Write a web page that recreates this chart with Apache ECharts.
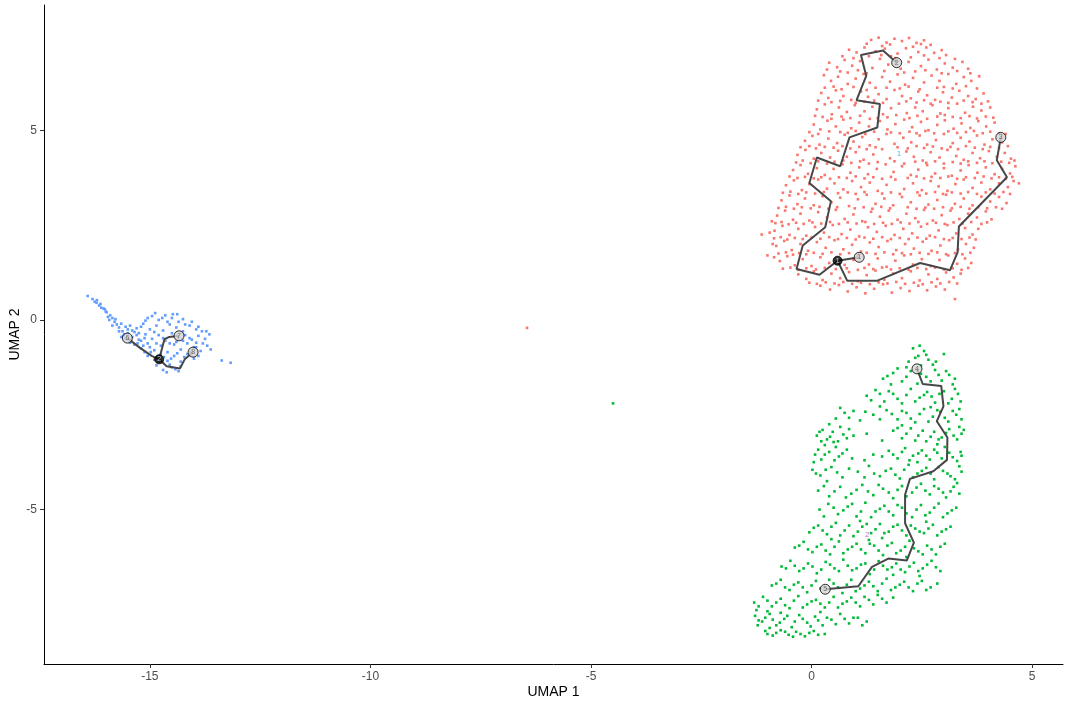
<!DOCTYPE html>
<html>
<head>
<meta charset="utf-8">
<script src="https://cdn.jsdelivr.net/npm/echarts/dist/echarts.min.js"></script>
<style>
  html, body { margin: 0; padding: 0; background: #fff; }
  #chart { width: 1073px; height: 709px; }
</style>
</head>
<body>
<div id="chart"></div>
<script>
// axis ticks
const xTicks = [-15, -10, -5, 0, 5];
const yTicks = [-5, 0, 5];

// cluster 1 (red) cells
const redPts = [
  [1.35,7.38],[1.52,7.44],[1.7,7.31],[1.88,7.41],[2.05,7.35],[2.21,7.43],[2.38,7.3],[2.55,7.37],[1.6,7.22],[2.3,7.2],
  [0.85,7.12],[1.02,7.05],[1.2,7.18],[1.45,7.08],[1.66,7.15],[1.95,7.02],[2.14,7.16],[2.42,7.06],[2.6,7.18],[2.78,7.04],[2.95,7.11],[3.05,6.98],[1.3,6.95],[2.25,6.92],
  [0.4,6.78],[0.58,6.66],[0.75,6.85],[0.92,6.7],[1.1,6.82],[1.38,6.64],[1.55,6.88],[1.74,6.73],[2.02,6.62],[2.2,6.8],[2.48,6.69],[2.65,6.86],[2.84,6.6],[3.02,6.76],[3.2,6.65],[3.42,6.8],[3.55,6.62],[0.65,6.55],[1.9,6.9],[2.35,6.55],
  [0.28,6.45],[0.44,6.3],[0.6,6.41],[0.82,6.22],[1.0,6.36],[1.18,6.48],[1.32,6.25],[1.6,6.4],[1.78,6.28],[1.95,6.47],[2.12,6.2],[2.3,6.38],[2.55,6.26],[2.72,6.44],[2.9,6.3],[3.1,6.48],[3.28,6.22],[3.45,6.4],[3.62,6.3],[3.8,6.42],[0.5,6.15],[1.45,6.12],[2.85,6.12],
  [0.22,5.98],[0.38,5.85],[0.55,6.05],[0.72,5.9],[0.9,5.8],[1.12,6.02],[1.28,5.88],[1.52,5.95],[1.7,5.82],[1.88,6.06],[2.05,5.9],[2.25,5.84],[2.42,6.02],[2.62,5.92],[2.8,5.8],[2.98,6.0],[3.18,5.86],[3.35,6.04],[3.55,5.9],[3.72,5.82],[3.9,5.97],[1.0,5.72],[2.7,5.7],
  [0.12,5.55],[0.3,5.68],[0.46,5.42],[0.62,5.6],[0.8,5.48],[0.98,5.66],[1.2,5.5],[1.38,5.62],[1.62,5.42],[1.8,5.58],[1.98,5.7],[2.16,5.45],[2.35,5.6],[2.52,5.5],[2.74,5.66],[2.92,5.44],[3.1,5.58],[3.3,5.7],[3.48,5.46],[3.66,5.62],[3.85,5.52],[4.05,5.6],[0.25,5.35],[1.5,5.32],[3.2,5.35],
  [0.05,5.15],[0.2,5.02],[0.36,5.25],[0.55,5.1],[0.72,5.28],[0.9,5.05],[1.08,5.2],[1.3,5.1],[1.55,5.24],[1.72,5.02],[1.9,5.16],[2.1,5.28],[2.28,5.08],[2.48,5.22],[2.65,5.0],[2.85,5.14],[3.02,5.26],[3.22,5.04],[3.4,5.18],[3.6,5.06],[3.78,5.24],[3.96,5.1],[4.15,5.2],[0.65,4.95],[2.0,4.92],[3.5,4.95],
  [-0.15,4.72],[0.02,4.85],[0.18,4.62],[0.38,4.78],[0.58,4.66],[0.75,4.88],[0.95,4.7],[1.15,4.82],[1.32,4.6],[1.52,4.76],[1.7,4.9],[1.88,4.64],[2.08,4.8],[2.26,4.68],[2.45,4.86],[2.62,4.62],[2.82,4.74],[3.0,4.9],[3.2,4.66],[3.38,4.8],[3.58,4.7],[3.75,4.86],[3.92,4.62],[4.1,4.76],[4.32,4.68],[4.4,4.9],
  [-0.32,4.35],[-0.14,4.48],[0.05,4.25],[0.22,4.4],[0.42,4.28],[0.6,4.46],[0.8,4.3],[1.0,4.42],[1.18,4.22],[1.4,4.36],[1.6,4.5],[1.78,4.26],[2.15,4.44],[2.32,4.3],[2.52,4.2],[2.7,4.42],[2.9,4.28],[3.08,4.48],[3.28,4.32],[3.45,4.22],[3.65,4.4],[3.82,4.26],[4.02,4.45],[4.2,4.3],[4.38,4.4],[4.52,4.25],
  [-0.42,3.95],[-0.25,4.08],[-0.08,3.85],[0.12,4.0],[0.3,3.82],[0.5,3.98],[0.7,4.1],[0.88,3.88],[1.08,4.02],[1.28,3.84],[1.48,3.98],[1.68,4.1],[1.86,3.9],[2.05,4.05],[2.25,3.82],[2.42,3.96],[2.62,4.08],[2.8,3.86],[3.0,4.0],[3.18,3.8],[3.38,3.94],[3.56,4.08],[3.76,3.88],[3.95,4.02],[4.15,3.84],[4.32,3.98],[4.5,3.86],[4.62,4.05],
  [-0.58,3.55],[-0.4,3.68],[-0.22,3.42],[-0.05,3.58],[0.15,3.7],[0.35,3.46],[0.52,3.6],[0.72,3.44],[0.92,3.66],[1.12,3.5],[1.32,3.62],[1.5,3.4],[1.7,3.56],[1.9,3.7],[2.1,3.45],[2.3,3.6],[2.5,3.42],[2.7,3.66],[2.88,3.52],[3.08,3.4],[3.26,3.58],[3.45,3.7],[3.65,3.48],[3.85,3.62],[4.05,3.44],[4.25,3.6],[4.45,3.5],[4.58,3.66],
  [-0.68,3.15],[-0.5,3.28],[-0.32,3.05],[-0.15,3.2],[0.05,3.02],[0.25,3.26],[0.45,3.1],[0.65,3.22],[0.85,3.0],[1.05,3.18],[1.25,3.3],[1.45,3.06],[1.65,3.2],[1.85,3.02],[2.05,3.24],[2.25,3.1],[2.45,3.28],[2.65,3.04],[2.85,3.16],[3.05,3.3],[3.25,3.06],[3.45,3.2],[3.65,3.02],[3.85,3.25],[4.05,3.12],[4.25,3.24],[4.42,3.08],
  [-0.78,2.75],[-0.6,2.88],[-0.42,2.64],[-0.25,2.8],[-0.05,2.62],[0.15,2.84],[0.35,2.7],[0.55,2.9],[0.75,2.66],[0.95,2.78],[1.15,2.6],[1.35,2.85],[1.55,2.72],[1.75,2.88],[1.95,2.64],[2.15,2.8],[2.35,2.68],[2.55,2.9],[2.75,2.62],[2.95,2.76],[3.15,2.88],[3.35,2.66],[3.55,2.8],[3.75,2.7],[3.95,2.86],[4.08,2.65],
  [-0.84,2.35],[-0.66,2.48],[-0.5,2.24],[-0.3,2.4],[-0.12,2.22],[0.08,2.45],[0.28,2.3],[0.48,2.5],[0.68,2.26],[0.88,2.38],[1.08,2.2],[1.28,2.44],[1.48,2.32],[1.68,2.48],[1.88,2.24],[2.08,2.4],[2.28,2.28],[2.48,2.46],[2.68,2.22],[2.88,2.36],[3.08,2.5],[3.28,2.28],[3.48,2.42],[3.65,2.25],[3.78,2.4],
  [-0.8,1.95],[-0.62,2.08],[-0.45,1.84],[-0.25,2.0],[-0.08,1.82],[0.12,2.05],[0.32,1.9],[0.52,2.1],[0.72,1.86],[0.92,1.98],[1.12,1.8],[1.32,2.04],[1.52,1.92],[1.72,2.08],[1.92,1.84],[2.12,2.0],[2.32,1.88],[2.52,2.06],[2.72,1.82],[2.92,1.96],[3.12,2.1],[3.32,1.86],[3.5,2.0],[3.68,1.9],
  [-0.72,1.55],[-0.55,1.68],[-0.38,1.44],[-0.2,1.6],[0.0,1.42],[0.2,1.65],[0.4,1.5],[0.75,1.45],[0.95,1.58],[1.3,1.46],[1.5,1.62],[1.7,1.4],[1.9,1.56],[2.1,1.7],[2.3,1.46],[2.5,1.6],[2.7,1.42],[2.9,1.58],[3.1,1.7],[3.3,1.48],[3.48,1.62],[3.62,1.5],
  [-0.3,1.2],[-0.12,1.08],[0.05,1.28],[0.25,1.05],[0.45,1.22],[0.65,1.1],[0.85,1.26],[1.05,1.02],[1.25,1.18],[1.45,1.3],[1.65,1.06],[1.85,1.22],[2.05,1.1],[2.25,1.28],[2.45,1.04],[2.65,1.2],[2.85,1.08],[3.05,1.25],[3.22,1.12],[3.38,1.22],
  [0.2,0.9],[0.42,0.8],[0.62,0.92],[0.82,0.75],[1.02,0.86],[1.22,0.7],[1.42,0.82],[1.62,0.94],[1.82,0.72],[2.02,0.84],[2.22,0.76],[2.42,0.9],[2.62,0.78],[2.82,0.88],[3.02,0.8],
  [-1.13,2.25],[-1.0,1.7],[3.25,0.55],[4.7,3.6],[-6.45,-0.21],
  [1.25,7.28],[1.78,7.26],[2.48,7.27],[2.7,7.25],
  [0.7,6.95],[0.95,6.9],[1.58,6.98],[1.8,6.95],[2.55,6.97],[2.9,6.9],[3.25,6.88],
  [0.35,6.6],[0.82,6.52],[1.05,6.58],[1.25,6.5],[1.65,6.56],[2.1,6.52],[2.58,6.58],[2.95,6.5],[3.3,6.56],[3.6,6.5],
  [0.3,6.12],[0.68,6.08],[0.95,6.14],[1.25,6.06],[1.7,6.12],[2.0,6.1],[2.2,6.15],[2.45,6.08],[3.0,6.14],[3.2,6.1],[3.5,6.16],[3.75,6.1],
  [0.15,5.78],[0.45,5.74],[0.65,5.77],[1.2,5.75],[1.42,5.78],[1.62,5.72],[2.15,5.76],[2.38,5.73],[2.55,5.79],[2.92,5.75],[3.1,5.72],[3.45,5.78],[3.65,5.74],[3.85,5.7],[4.0,5.76],
  [0.08,5.38],[0.45,5.3],[0.68,5.36],[0.88,5.32],[1.1,5.38],[1.32,5.3],[1.72,5.34],[1.92,5.4],[2.22,5.32],[2.4,5.38],[2.62,5.3],[2.85,5.36],[3.02,5.4],[3.38,5.32],[3.58,5.37],[3.75,5.31],[3.95,5.36],[4.12,5.33],
  [-0.05,4.95],[0.15,4.9],[0.4,4.97],[0.82,4.93],[1.0,4.98],[1.22,4.9],[1.42,4.96],[1.8,4.94],[2.22,4.96],[2.38,4.92],[2.58,4.98],[2.78,4.92],[3.1,4.97],[3.3,4.93],[3.68,4.98],[3.88,4.92],[4.05,4.96],[4.25,4.92],
  [-0.25,4.55],[-0.05,4.58],[0.1,4.52],[0.3,4.56],[0.5,4.54],[0.7,4.58],[0.88,4.52],[1.08,4.56],[1.25,4.5],[1.45,4.55],[1.95,4.55],[2.18,4.52],[2.38,4.58],[2.55,4.53],[2.75,4.57],[2.95,4.52],[3.15,4.56],[3.32,4.5],[3.5,4.58],[3.7,4.54],[3.88,4.5],[4.05,4.56],[4.25,4.53],[4.45,4.58],
  [-0.35,4.15],[-0.2,4.2],[-0.02,4.13],[0.15,4.18],[0.35,4.12],[0.52,4.17],[0.72,4.2],[0.9,4.14],[1.1,4.18],[1.3,4.12],[1.5,4.16],[1.88,4.18],[2.1,4.12],[2.35,4.17],[2.6,4.14],[2.8,4.18],[3.0,4.12],[3.2,4.16],[3.38,4.12],[3.55,4.18],[3.75,4.14],[3.92,4.18],[4.1,4.13],[4.3,4.17],[4.48,4.14],[4.6,4.2],
  [-0.5,3.78],[-0.32,3.74],[-0.15,3.77],[0.05,3.73],[0.22,3.76],[0.42,3.72],[0.62,3.76],[0.8,3.74],[1.0,3.78],[1.2,3.73],[1.4,3.76],[1.6,3.72],[1.8,3.77],[2.18,3.74],[2.38,3.78],[2.55,3.73],[2.72,3.77],[2.92,3.74],[3.1,3.78],[3.3,3.72],[3.5,3.76],[3.7,3.74],[3.9,3.78],[4.08,3.73],[4.25,3.76],[4.4,3.72],[4.55,3.77],
  [-0.65,3.35],[-0.48,3.38],[-0.3,3.32],[-0.12,3.36],[0.08,3.33],[0.28,3.37],[0.6,3.34],[0.82,3.36],[1.0,3.32],[1.2,3.37],[1.6,3.33],[1.8,3.36],[2.0,3.32],[2.4,3.36],[2.6,3.33],[2.8,3.37],[2.98,3.32],[3.18,3.36],[3.38,3.33],[3.55,3.37],[3.75,3.32],[3.95,3.36],[4.15,3.33],[4.35,3.37],[4.5,3.32],
  [-0.75,2.95],[-0.58,2.98],[-0.4,2.93],[-0.22,2.97],[-0.02,2.94],[0.18,2.98],[0.38,2.93],[0.58,2.97],[0.98,2.94],[1.18,2.97],[1.38,2.93],[1.58,2.98],[1.78,2.94],[2.18,2.97],[2.38,2.93],[2.58,2.96],[2.78,2.93],[2.98,2.97],[3.18,2.94],[3.38,2.98],[3.58,2.93],[3.78,2.97],[3.98,2.94],[4.18,2.97],[4.32,2.93],
  [-0.82,2.55],[-0.68,2.58],[-0.52,2.52],[-0.35,2.56],[-0.18,2.53],[0.02,2.57],[0.22,2.54],[0.42,2.58],[0.62,2.53],[0.82,2.57],[1.02,2.54],[1.22,2.58],[1.42,2.53],[1.62,2.56],[1.82,2.53],[2.02,2.57],[2.22,2.54],[2.42,2.58],[2.62,2.53],[2.82,2.56],[3.02,2.53],[3.22,2.57],[3.42,2.54],[3.62,2.58],[3.85,2.53],[3.98,2.57],
  [-0.85,2.15],[-0.7,2.18],[-0.55,2.12],[-0.38,2.16],[-0.2,2.13],[0.0,2.17],[0.2,2.14],[0.4,2.18],[0.6,2.13],[0.8,2.16],[1.0,2.12],[1.2,2.17],[1.4,2.14],[1.6,2.18],[1.8,2.13],[2.0,2.16],[2.2,2.13],[2.4,2.17],[2.6,2.14],[2.8,2.18],[3.0,2.13],[3.2,2.16],[3.4,2.13],[3.58,2.17],[3.72,2.12],
  [-0.75,1.75],[-0.58,1.78],[-0.42,1.72],[-0.28,1.76],[-0.12,1.73],[0.05,1.77],[0.25,1.74],[0.45,1.78],[0.65,1.73],[0.85,1.76],[1.05,1.72],[1.25,1.77],[1.45,1.74],[1.65,1.78],[1.85,1.73],[2.05,1.76],[2.25,1.73],[2.45,1.77],[2.65,1.74],[2.85,1.78],[3.05,1.73],[3.25,1.76],[3.42,1.73],[3.6,1.77],
  [-0.65,1.35],[-0.48,1.38],[-0.3,1.32],[-0.12,1.36],[0.1,1.33],[0.3,1.37],[0.55,1.34],[0.8,1.36],[1.05,1.32],[1.2,1.37],[1.4,1.34],[1.6,1.38],[1.8,1.33],[2.0,1.36],[2.2,1.32],[2.4,1.37],[2.6,1.34],[2.8,1.38],[3.0,1.33],[3.2,1.36],[3.4,1.32],[3.55,1.37],
  [-0.05,0.98],[0.12,0.95],[0.32,0.99],[0.52,0.96],[0.72,1.0],[0.92,0.95],[1.12,0.98],[1.32,0.94],[1.52,0.99],[1.72,0.96],[1.92,1.0],[2.12,0.95],[2.32,0.98],[2.52,0.94],[2.72,0.99],[2.92,0.96],[3.12,1.0],[3.3,0.96],
  [-0.9,2.6],[-0.95,2.3],[-0.88,2.0],[-0.85,1.65]
];

// cluster 2 (green) cells
const greenPts = [
  [2.3,-0.75],[2.55,-0.82],[2.42,-0.95],[2.65,-1.05],[2.2,-1.1],[2.75,-1.18],[2.48,-1.2],
  [1.62,-1.55],[1.85,-1.4],[2.05,-1.62],[2.25,-1.35],[2.6,-1.5],[2.8,-1.32],[2.95,-1.6],[3.12,-1.45],[2.4,-1.68],[1.95,-1.28],[3.2,-1.7],
  [1.25,-2.0],[1.45,-1.85],[1.65,-2.15],[1.85,-1.95],[2.05,-2.2],[2.25,-1.82],[2.45,-2.05],[2.62,-1.9],[2.8,-2.18],[3.0,-1.88],[3.18,-2.08],[3.32,-1.95],[1.55,-2.28],[2.7,-2.3],
  [0.55,-2.6],[0.75,-2.45],[0.95,-2.4],[1.1,-2.65],[1.4,-2.5],[1.7,-2.38],[1.95,-2.62],[2.15,-2.45],[2.35,-2.7],[2.55,-2.35],[2.75,-2.55],[2.92,-2.42],[3.1,-2.68],[3.28,-2.5],[3.35,-2.35],[2.05,-2.78],
  [0.12,-3.05],[0.25,-2.9],[0.35,-3.15],[0.48,-2.95],[0.6,-3.2],[0.72,-3.02],[0.85,-2.88],[0.3,-3.3],[0.55,-3.35],[1.25,-3.0],[1.6,-3.18],[1.85,-2.92],[2.05,-3.12],[2.25,-2.86],[2.42,-3.05],[2.6,-3.2],[2.78,-2.95],[2.95,-3.1],[3.12,-2.88],[3.3,-3.15],[3.4,-3.0],[2.85,-3.28],
  [0.08,-3.55],[0.22,-3.68],[0.4,-3.48],[0.62,-3.6],[0.8,-3.42],[0.15,-3.42],[1.4,-3.55],[1.75,-3.45],[1.95,-3.65],[2.12,-3.38],[2.3,-3.58],[2.5,-3.44],[2.68,-3.68],[2.85,-3.5],[3.02,-3.35],[3.2,-3.62],[3.38,-3.48],[2.4,-3.75],
  [0.02,-3.95],[0.2,-4.1],[0.45,-3.88],[0.7,-4.15],[1.05,-4.0],[1.3,-3.85],[1.55,-4.12],[1.8,-3.92],[2.0,-4.18],[2.2,-3.82],[2.4,-4.05],[2.6,-3.9],[2.78,-4.2],[2.98,-3.98],[3.15,-4.12],[3.35,-3.86],[0.35,-4.25],
  [0.15,-4.5],[0.4,-4.65],[0.65,-4.4],[0.9,-4.58],[1.15,-4.35],[1.4,-4.62],[1.62,-4.45],[1.85,-4.7],[2.05,-4.38],[2.28,-4.55],[2.48,-4.32],[2.68,-4.6],[2.88,-4.45],[3.05,-4.68],[3.22,-4.4],[3.35,-4.58],
  [0.18,-5.0],[0.38,-4.85],[0.6,-5.12],[0.82,-4.92],[1.02,-5.18],[1.22,-4.82],[1.45,-5.05],[1.65,-4.9],[1.85,-5.15],[2.05,-4.95],[2.28,-5.2],[2.48,-4.88],[2.68,-5.08],[2.88,-4.84],[3.08,-5.1],[3.28,-4.95],[1.1,-5.3],[2.6,-5.32],
  [-0.05,-5.6],[0.15,-5.42],[0.35,-5.65],[0.55,-5.35],[0.75,-5.55],[0.95,-5.7],[1.15,-5.45],[1.35,-5.62],[1.55,-5.38],[1.75,-5.58],[1.95,-5.4],[2.15,-5.68],[2.35,-5.5],[2.55,-5.62],[2.75,-5.4],[2.95,-5.58],[3.15,-5.45],[1.6,-5.75],[0.45,-5.78],
  [-0.38,-6.0],[-0.18,-5.85],[0.02,-6.12],[0.22,-5.92],[0.42,-6.18],[0.62,-5.84],[0.82,-6.05],[1.02,-5.9],[1.22,-6.15],[1.42,-5.95],[1.62,-6.2],[1.82,-5.88],[2.02,-6.08],[2.22,-5.82],[2.42,-6.1],[2.62,-5.95],[2.82,-6.18],[3.02,-5.9],[1.3,-5.8],[2.15,-6.25],
  [-0.68,-6.5],[-0.48,-6.35],[-0.28,-6.62],[-0.08,-6.42],[0.12,-6.68],[0.32,-6.38],[0.52,-6.55],[0.72,-6.32],[0.92,-6.6],[1.12,-6.45],[1.32,-6.7],[1.52,-6.36],[1.72,-6.58],[1.92,-6.42],[2.12,-6.65],[2.32,-6.4],[2.52,-6.55],[2.72,-6.35],[2.92,-6.62],[1.85,-6.72],[2.45,-6.75],
  [-0.9,-7.0],[-0.7,-6.85],[-0.5,-7.12],[-0.3,-6.92],[-0.1,-7.18],[0.1,-6.88],[0.5,-6.95],[0.7,-7.2],[0.9,-6.85],[1.1,-7.08],[1.3,-6.9],[1.5,-7.15],[1.7,-6.82],[1.9,-7.05],[2.1,-6.9],[2.3,-7.15],[2.5,-6.88],[2.7,-7.05],[2.85,-6.95],
  [-1.3,-7.45],[-1.1,-7.3],[-0.9,-7.55],[-0.7,-7.35],[-0.5,-7.6],[-0.3,-7.28],[-0.1,-7.5],[0.1,-7.38],[0.3,-7.58],[0.5,-7.3],[0.7,-7.48],[0.9,-7.32],[1.1,-7.55],[1.3,-7.38],[1.5,-7.25],[1.7,-7.45],[1.85,-7.32],[-1.0,-7.68],[0.2,-7.7],
  [-1.28,-7.8],[-1.12,-7.95],[-0.95,-7.75],[-0.8,-8.05],[-0.62,-7.88],[-0.45,-8.1],[-0.28,-7.78],[-0.1,-7.98],[0.08,-7.82],[0.25,-8.05],[0.45,-7.9],[0.65,-7.75],[0.85,-8.0],[1.05,-7.85],[1.25,-7.95],[-1.2,-7.92],[-0.7,-7.72],
  [-1.05,-8.2],[-0.88,-8.32],[-0.7,-8.18],[-0.52,-8.3],[-0.35,-8.22],[-0.15,-8.34],[0.05,-8.2],[0.3,-8.28],[-0.95,-8.12],
  [2.45,-0.68],[3.45,-2.9],[3.0,-0.9],[-4.5,-2.2],
  [2.35,-1.0],[2.6,-0.92],[2.82,-1.1],[2.15,-1.25],
  [1.72,-1.48],[2.15,-1.5],[2.48,-1.42],[2.7,-1.62],[2.88,-1.45],[3.05,-1.35],[3.25,-1.55],[1.8,-1.7],
  [1.35,-2.12],[1.55,-1.95],[1.75,-1.88],[1.95,-2.08],[2.15,-1.98],[2.35,-2.15],[2.55,-1.98],[2.72,-2.02],[2.9,-1.95],[3.1,-2.2],[3.25,-1.82],[3.38,-2.15],
  [0.65,-2.32],[0.85,-2.58],[1.22,-2.42],[1.55,-2.62],[1.82,-2.48],[2.05,-2.4],[2.25,-2.6],[2.45,-2.48],[2.65,-2.68],[2.85,-2.38],[3.02,-2.58],[3.2,-2.4],[3.4,-2.62],[0.4,-2.75],
  [0.18,-2.95],[0.42,-3.08],[0.65,-2.82],[0.8,-3.12],[0.22,-3.2],[0.5,-3.22],[0.95,-3.05],[1.95,-2.85],[2.15,-3.0],[2.35,-3.18],[2.52,-2.92],[2.7,-3.08],[2.88,-3.15],[3.05,-2.98],[3.22,-3.05],[3.35,-2.82],
  [0.05,-3.75],[0.3,-3.55],[0.52,-3.7],[0.7,-3.52],[0.92,-3.65],[1.2,-3.7],[1.6,-3.6],[1.85,-3.55],[2.05,-3.48],[2.22,-3.7],[2.42,-3.52],[2.6,-3.58],[2.78,-3.42],[2.95,-3.65],[3.12,-3.5],[3.3,-3.72],[3.4,-3.58],
  [0.1,-4.05],[0.32,-3.95],[0.58,-4.02],[0.85,-3.92],[1.2,-4.15],[1.42,-4.05],[1.68,-3.98],[1.9,-4.08],[2.1,-3.95],[2.3,-4.15],[2.5,-3.98],[2.7,-4.05],[2.88,-3.88],[3.08,-4.05],[3.25,-4.2],[3.4,-4.0],
  [0.28,-4.38],[0.52,-4.52],[0.78,-4.68],[1.02,-4.48],[1.28,-4.52],[1.52,-4.35],[1.75,-4.55],[1.95,-4.48],[2.15,-4.65],[2.38,-4.42],[2.58,-4.5],[2.78,-4.38],[2.98,-4.55],[3.15,-4.52],[3.3,-4.3],
  [0.28,-5.18],[0.5,-4.95],[0.72,-5.02],[0.92,-4.85],[1.12,-5.05],[1.35,-5.2],[1.55,-4.98],[1.75,-5.05],[1.95,-4.88],[2.15,-5.1],[2.38,-5.0],[2.58,-5.15],[2.78,-4.95],[2.98,-5.2],[3.18,-5.02],
  [0.05,-5.48],[0.25,-5.55],[0.45,-5.45],[0.65,-5.68],[0.85,-5.42],[1.05,-5.58],[1.25,-5.38],[1.45,-5.52],[1.65,-5.62],[1.85,-5.45],[2.05,-5.55],[2.25,-5.42],[2.45,-5.58],[2.65,-5.5],[2.85,-5.68],[3.05,-5.52],
  [-0.28,-5.95],[-0.08,-6.05],[0.12,-5.98],[0.32,-6.08],[0.52,-5.98],[0.72,-6.15],[0.92,-5.98],[1.12,-6.05],[1.32,-5.9],[1.52,-6.08],[1.72,-5.95],[1.92,-6.15],[2.12,-5.98],[2.32,-6.02],[2.52,-6.18],[2.72,-6.05],[2.92,-5.98],
  [-0.58,-6.55],[-0.38,-6.48],[-0.18,-6.55],[0.02,-6.5],[0.22,-6.58],[0.42,-6.45],[0.62,-6.62],[0.82,-6.48],[1.02,-6.55],[1.22,-6.42],[1.42,-6.58],[1.62,-6.48],[1.82,-6.52],[2.02,-6.58],[2.22,-6.5],[2.42,-6.62],[2.62,-6.45],[2.82,-6.52],
  [-0.8,-6.95],[-0.6,-7.05],[-0.4,-6.98],[-0.2,-7.05],[0.0,-7.0],[0.2,-7.08],[0.4,-6.85],[0.6,-7.05],[0.8,-6.98],[1.0,-7.15],[1.2,-7.0],[1.4,-7.02],[1.6,-6.95],[1.8,-7.12],[2.0,-6.98],[2.2,-7.05],[2.4,-6.95],[2.6,-7.12],
  [-1.2,-7.55],[-1.0,-7.4],[-0.8,-7.45],[-0.6,-7.52],[-0.4,-7.4],[-0.2,-7.58],[0.0,-7.42],[0.2,-7.48],[0.4,-7.45],[0.6,-7.58],[0.8,-7.42],[1.0,-7.45],[1.2,-7.3],[1.4,-7.5],[1.6,-7.35],[-1.25,-7.65],
  [-1.22,-8.05],[-1.05,-7.85],[-0.88,-7.9],[-0.72,-7.98],[-0.55,-7.8],[-0.38,-7.95],[-0.2,-7.88],[-0.02,-8.08],[0.15,-7.92],[0.35,-7.85],[0.55,-8.02],[0.75,-7.88],[0.95,-7.85],[1.15,-8.05],
  [-1.0,-8.28],[-0.8,-8.25],[-0.6,-8.22],[-0.42,-8.35],[-0.25,-8.28],[-0.05,-8.25],[0.15,-8.3]
];

// cluster 3 (blue) cells
const bluePts = [
  [-16.41,0.63],[-16.3,0.55],[-16.21,0.45],[-16.15,0.38],[-16.05,0.3],[-15.98,0.2],[-16.1,0.32],[-15.9,0.12],[-15.85,0.05],[-15.8,-0.05],
  [-15.92,0.0],[-15.75,-0.12],[-15.7,-0.2],[-15.85,-0.15],[-15.62,-0.3],[-15.58,-0.38],[-15.7,-0.3],[-15.5,-0.25],[-16.2,0.52],[-16.0,0.22],
  [-14.95,0.1],[-14.8,0.0],[-14.65,0.12],[-14.5,0.05],[-14.38,0.15],[-14.25,0.02],[-14.6,-0.05],[-15.1,-0.02],
  [-15.45,-0.15],[-15.3,-0.22],[-15.15,-0.1],[-15.0,-0.25],[-14.85,-0.15],[-14.7,-0.28],[-14.55,-0.12],[-14.4,-0.2],[-14.25,-0.3],[-14.1,-0.15],[-13.95,-0.25],[-13.82,-0.3],[-14.9,-0.32],
  [-15.4,-0.45],[-15.25,-0.52],[-15.1,-0.38],[-14.95,-0.5],[-14.8,-0.4],[-14.65,-0.55],[-14.5,-0.35],[-14.35,-0.48],[-14.2,-0.4],[-14.05,-0.52],[-13.9,-0.42],[-13.75,-0.5],[-13.65,-0.38],
  [-15.35,-0.65],[-15.2,-0.75],[-15.05,-0.62],[-14.9,-0.8],[-14.75,-0.68],[-14.6,-0.85],[-14.45,-0.65],[-14.3,-0.78],[-14.15,-0.62],[-14.0,-0.72],[-13.85,-0.82],[-13.7,-0.68],[-13.62,-0.78],
  [-15.05,-0.95],[-14.9,-1.05],[-14.75,-0.92],[-14.6,-1.08],[-14.45,-0.95],[-14.3,-1.1],[-14.15,-0.9],[-14.0,-1.02],[-13.9,-0.95],
  [-14.85,-1.2],[-14.7,-1.32],[-14.55,-1.18],[-14.42,-1.3],[-14.3,-1.22],[-14.62,-1.38],
  [-15.55,-0.5],[-15.45,-0.6],[-15.3,-0.4],[-15.2,-0.55],[-15.6,-0.42],[-15.35,-0.32],
  [-13.37,-1.07],[-13.17,-1.13],
  [-16.25,0.48],[-16.12,0.42],[-16.02,0.28],[-15.95,0.08],[-15.78,0.02],[-15.65,-0.1],[-15.55,-0.18],[-15.65,-0.45],[-15.5,-0.35],[-15.4,-0.28],
  [-15.25,-0.35],[-15.12,-0.48],[-15.28,-0.62],[-15.15,-0.68],[-15.0,-0.72],[-14.85,-0.62],[-14.7,-0.48],[-14.55,-0.62],[-14.4,-0.58],[-14.25,-0.55],
  [-14.1,-0.48],[-13.95,-0.6],[-13.8,-0.62],[-13.72,-0.3],[-13.9,-0.18],[-14.05,-0.05],[-14.2,-0.12],[-14.35,-0.05],[-14.48,0.15],[-14.72,0.05],
  [-14.88,0.18],[-15.05,0.05],[-15.2,-0.18],[-14.98,-0.85],[-14.82,-0.95],[-14.68,-0.98],[-14.52,-1.02],[-14.38,-0.88],[-14.22,-0.98],[-14.08,-0.85],
  [-13.95,-0.72],[-14.5,-1.25],[-14.35,-1.35],[-14.8,-1.1],[-15.12,-0.85]
];

// principal graph branches
const redPathA = [[1.93,6.78],[1.62,7.10],[1.12,6.98],[1.24,6.43],[1.02,5.79],[1.55,5.69],[1.49,5.07],[0.86,4.81],[0.65,4.05],[0.12,4.28],[-0.05,3.61],[0.44,3.13],[0.31,2.44],[-0.20,1.96],[-0.34,1.34],[0.18,1.19],[0.59,1.56]];
const redPathB = [[0.59,1.56],[1.08,1.65]];
const redPathC = [[0.59,1.56],[0.81,1.03],[1.48,1.03],[2.46,1.50],[3.14,1.31],[3.31,1.78],[3.34,2.46],[4.43,3.76],[4.20,4.21],[4.29,4.81]];
const greenPath = [[2.39,-1.29],[2.52,-1.69],[2.94,-1.74],[2.99,-2.28],[2.84,-2.67],[3.08,-3.10],[3.07,-3.69],[2.76,-3.99],[2.23,-4.19],[2.12,-4.61],[2.12,-5.36],[2.32,-5.87],[2.16,-6.34],[1.74,-6.29],[1.37,-6.51],[1.06,-7.02],[0.31,-7.10]];
const bluePathA = [[-15.51,-0.48],[-15.23,-0.73],[-14.96,-0.95],[-14.79,-1.04]];
const bluePathB = [[-14.79,-1.04],[-14.74,-0.82],[-14.67,-0.51],[-14.56,-0.45],[-14.34,-0.42]];
const bluePathC = [[-14.79,-1.04],[-14.62,-1.22],[-14.32,-1.28],[-14.21,-1.04],[-14.02,-0.85]];

// leaf nodes and branch points
const leafNodes = [[1.08,1.65,'1'],[1.93,6.78,'2'],[4.29,4.81,'3'],[2.39,-1.29,'4'],[0.31,-7.10,'5'],[-15.51,-0.48,'6'],[-14.34,-0.42,'7'],[-14.02,-0.85,'8']];
const branchNodes = [[0.59,1.56,'1'],[-14.79,-1.04,'2']];
const clusterLabels = [[1.98,4.37,'1','#2aa9c9'],[1.26,-5.66,'2','#9b59b6']];

const chart = echarts.init(document.getElementById('chart'));
const font = 'Liberation Sans, Arial, sans-serif';

function path(d) {
  return {
    type: 'line', data: d, showSymbol: false, symbol: 'none', z: 3,
    lineStyle: { color: '#474747', width: 2 }, silent: true
  };
}
function cells(d, color) {
  return {
    type: 'scatter', data: d, symbol: 'rect', symbolSize: 2.6, z: 2,
    itemStyle: { color: color, opacity: 1 }, silent: true
  };
}

const option = {
  animation: false,
  backgroundColor: '#fff',
  grid: { left: 44, right: 10, top: 5, bottom: 45, containLabel: false, outerBoundsMode: 'none' },
  xAxis: {
    type: 'value', min: -17.4, max: 5.7,
    name: 'UMAP 1', nameLocation: 'middle', nameGap: 21, nameMoveOverlap: false,
    nameTextStyle: { color: '#000', fontSize: 14, fontFamily: font },
    axisLine: { onZero: false, lineStyle: { color: '#000', width: 1 } },
    axisTick: { show: true, length: 4, customValues: xTicks, lineStyle: { color: '#333' } },
    axisLabel: { customValues: xTicks, color: '#4d4d4d', fontSize: 12, fontFamily: font, margin: 7 },
    splitLine: { show: false }
  },
  yAxis: {
    type: 'value', min: -9.07, max: 8.3,
    name: 'UMAP 2', nameLocation: 'middle', nameGap: 22, nameRotate: 90, nameMoveOverlap: false,
    nameTextStyle: { color: '#000', fontSize: 14, fontFamily: font },
    axisLine: { onZero: false, lineStyle: { color: '#000', width: 1 } },
    axisTick: { show: true, length: 4, customValues: yTicks, lineStyle: { color: '#333' } },
    axisLabel: { customValues: yTicks, color: '#4d4d4d', fontSize: 12, fontFamily: font, margin: 7 },
    splitLine: { show: false }
  },
  series: [
    cells(redPts, '#F8766D'),
    cells(greenPts, '#00BA38'),
    cells(bluePts, '#619CFF'),
    path(redPathA), path(redPathB), path(redPathC),
    path(greenPath),
    path(bluePathA), path(bluePathB), path(bluePathC),
    {
      type: 'scatter', data: leafNodes, symbol: 'circle', symbolSize: 10, z: 5,
      itemStyle: { color: '#d3d3d3', borderColor: '#000', borderWidth: 1 },
      label: { show: true, position: 'inside', formatter: p => p.data[2], fontSize: 7, color: '#555', fontFamily: font }
    },
    {
      type: 'scatter', data: branchNodes, symbol: 'circle', symbolSize: 9, z: 5,
      itemStyle: { color: '#000', borderColor: '#000', borderWidth: 1 },
      label: { show: true, position: 'inside', formatter: p => p.data[2], fontSize: 7, color: '#fff', fontFamily: font }
    },
    {
      type: 'scatter',
      data: clusterLabels.map(d => ({ value: [d[0], d[1]], label: { color: d[3], formatter: d[2] } })),
      symbolSize: 0, z: 4, silent: true,
      label: { show: true, position: 'inside', fontSize: 8, fontFamily: font }
    }
  ]
};

chart.setOption(option);
</script>
</body>
</html>
